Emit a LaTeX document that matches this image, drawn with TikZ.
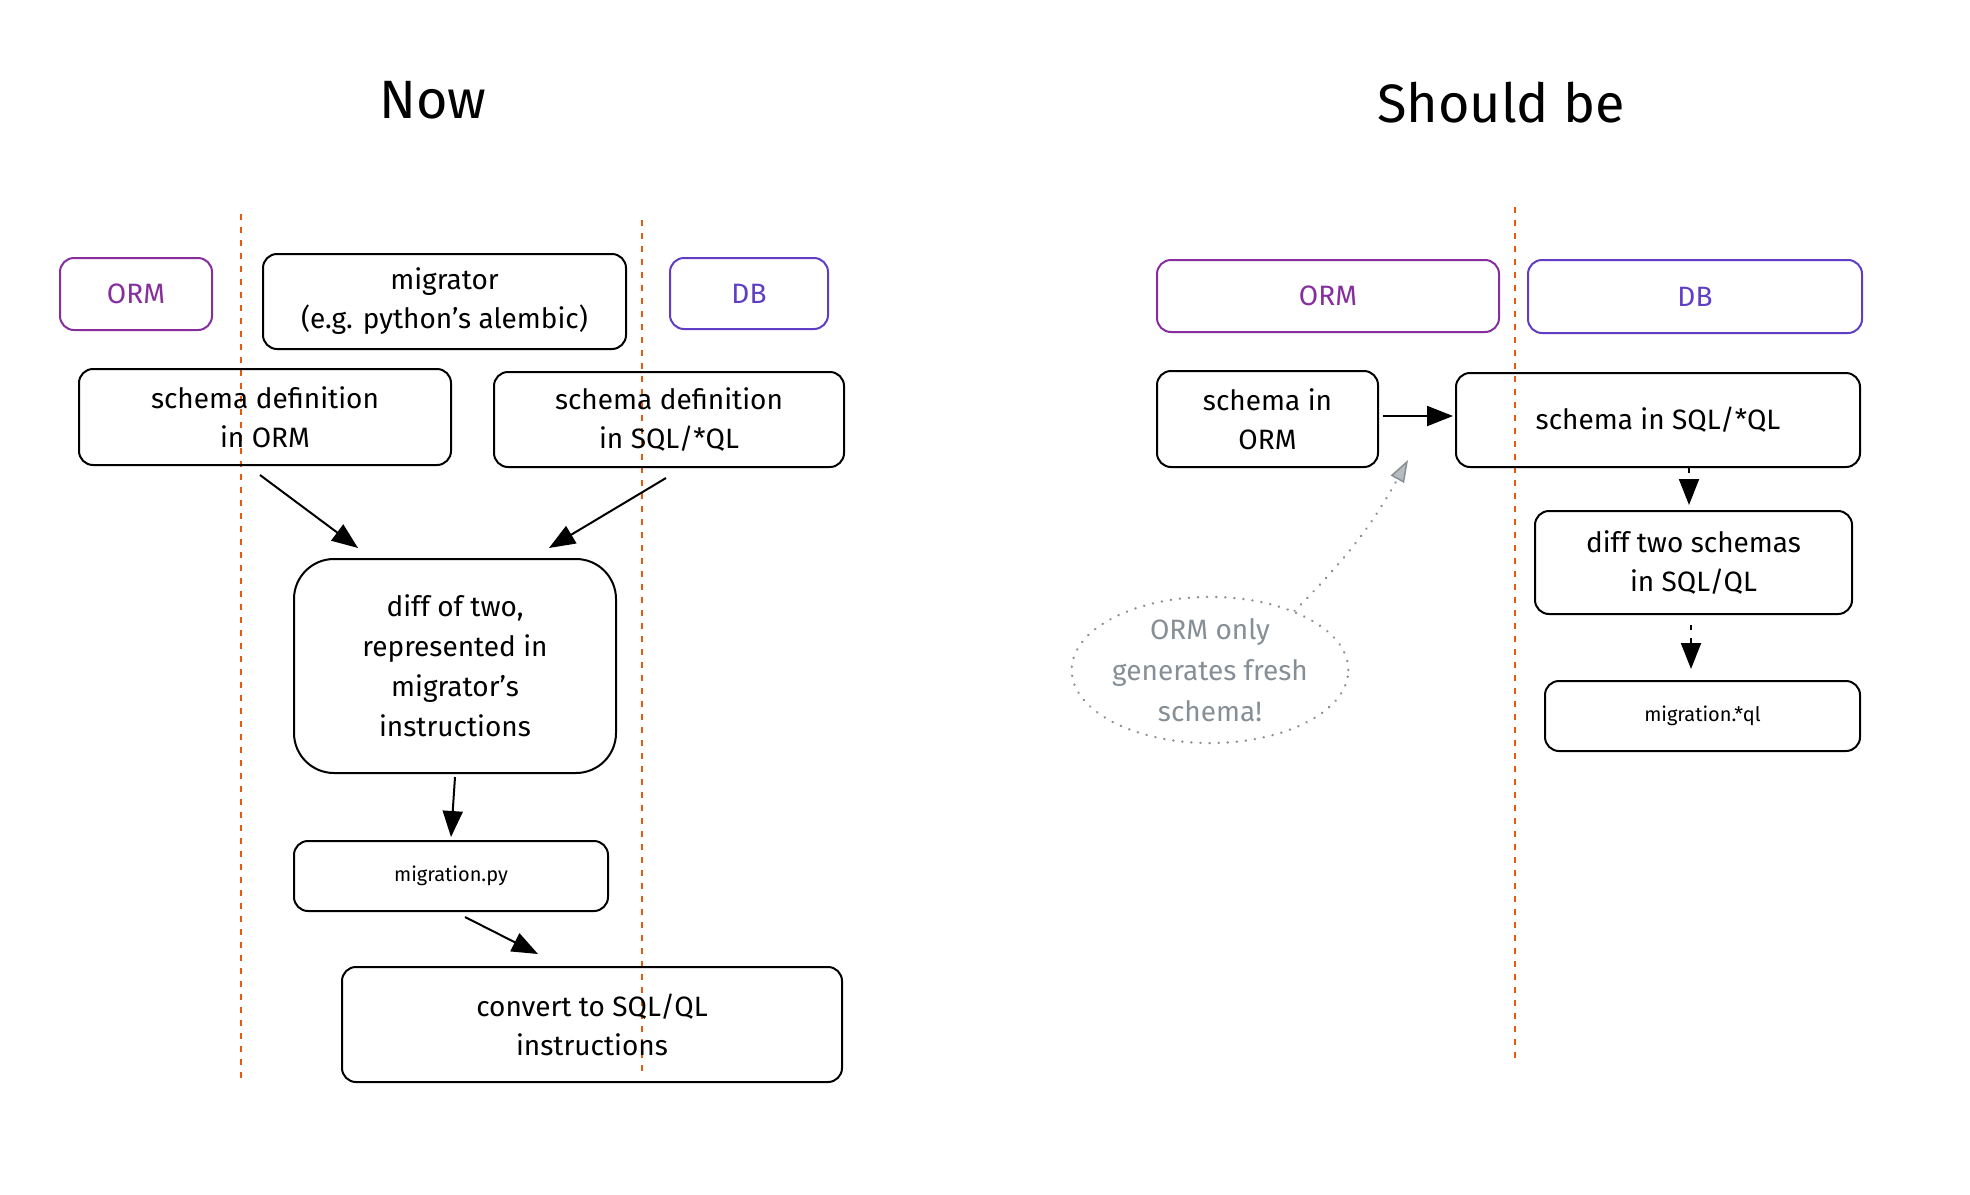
\documentclass[tikz,border=0pt]{standalone}
\usepackage{fontspec}
\setmainfont{Fira Sans}
\usetikzlibrary{arrows.meta,shapes.geometric}
\definecolor{ormcol}{HTML}{862E9C}
\definecolor{dbcol}{HTML}{5F3DC4}
\definecolor{sepcol}{HTML}{E8590C}
\definecolor{notecol}{HTML}{868E96}
\tikzset{
  box/.style={draw, line width=2pt, rounded corners=14pt, align=center,
    inner sep=0pt, font=\fontsize{28}{39}\selectfont},
  tag/.style={box, font=\fontsize{28}{34}\selectfont},
  small/.style={box, font=\fontsize{20}{24}\selectfont},
  title/.style={font=\fontsize{54}{60}\selectfont},
  sep/.style={sepcol, line width=2pt, dash pattern=on 6pt off 7pt},
  flow/.style={line width=2pt, -{Triangle[length=26pt,width=20pt]}},
  dflow/.style={flow, dash pattern=on 5pt off 8pt},
  dots/.style={notecol, line width=2.6pt, line cap=round, dash pattern=on 0.1pt off 9pt},
}
\begin{document}
\begin{tikzpicture}[x=1pt,y=-1pt]
\useasboundingbox (0,0) rectangle (1970,1194);
% Titles
\node[title] (now) at (433,100) {Now};
\node[title] (should) at (1501,103) {Should be};
% Separators
\draw[sep] (241,214) -- (241,1080);
\draw[sep] (642,220) -- (642,1074);
\draw[sep] (1515,207) -- (1515,1062);
% Now: headers
\node[tag, draw=ormcol, text=ormcol, minimum width=152pt, minimum height=72pt]
  (ormL) at (136,294) {ORM};
\node[box, minimum width=363pt, minimum height=95pt]
  (migrator) at (444.5,301.5) {migrator\\(e.g. python's alembic)};
\node[tag, draw=dbcol, text=dbcol, minimum width=158pt, minimum height=71pt]
  (dbL) at (749,293.5) {DB};
% Now: flow
\node[box, minimum width=372pt, minimum height=96pt]
  (schemaOrm) at (265,417) {schema definition\\in ORM};
\node[box, minimum width=350pt, minimum height=95pt]
  (schemaSql) at (669,419.5) {schema definition\\in SQL/*QL};
\node[box, rounded corners=40pt, minimum width=322pt, minimum height=214pt,
  font=\fontsize{28}{40}\selectfont]
  (diff) at (455,666) {diff of two,\\represented in\\migrator's\\instructions};
\node[small, minimum width=314pt, minimum height=70pt]
  (migpy) at (451,876) {migration.py};
\node[box, minimum width=500pt, minimum height=115pt]
  (convert) at (592,1024.5) {convert to SQL/QL\\instructions};
\draw[flow] ([xshift=-5pt,yshift=-9pt]schemaOrm.south)
  -- ([xshift=-97pt,yshift=10pt]diff.north);
\draw[flow] ([xshift=-3pt,yshift=-10pt]schemaSql.south)
  -- ([xshift=94pt,yshift=10pt]diff.north);
\draw[flow] ([yshift=-3pt]diff.south) -- ([yshift=3pt]migpy.north);
\draw[flow] ([xshift=14pt,yshift=-5pt]migpy.south)
  -- ([xshift=-54pt,yshift=12pt]convert.north);
% Should be: headers
\node[tag, draw=ormcol, text=ormcol, minimum width=342pt, minimum height=72pt]
  (ormR) at (1328,296) {ORM};
\node[tag, draw=dbcol, text=dbcol, minimum width=334pt, minimum height=73pt]
  (dbR) at (1695,296.5) {DB};
% Should be: flow
\node[box, minimum width=221pt, minimum height=96pt]
  (schemaR) at (1267.5,419) {schema in\\ORM};
\node[box, minimum width=404pt, minimum height=94pt]
  (sqlR) at (1658,420) {schema in SQL/*QL};
\node[box, minimum width=317pt, minimum height=103pt]
  (diffR) at (1693.5,562.5) {diff two schemas\\in SQL/QL};
\node[small, minimum width=315pt, minimum height=70pt]
  (migql) at (1702.5,716) {migration.*ql};
\draw[flow] ([xshift=4pt,yshift=3pt]schemaR.east) -- ([xshift=-2pt,yshift=4pt]sqlR.west);
\draw[dflow] ([xshift=31pt]sqlR.south) -- ([xshift=-4.5pt,yshift=5pt]diffR.north);
\draw[dflow] ([xshift=-2.5pt,yshift=-10pt]diffR.south)
  -- ([xshift=-11.5pt,yshift=11pt]migql.north);
% Note
\node[ellipse, draw, dots, text=notecol, minimum width=268pt, minimum height=144pt,
  inner sep=0pt, align=center, font=\fontsize{28}{41}\selectfont]
  (note) at (1210,670) {ORM only\\generates fresh\\schema!};
\draw[dots, -{Triangle[length=22pt,width=15pt,fill=notecol!60,line width=1.5pt]}]
  (note.35) to[bend right=8] ([xshift=29pt,yshift=8pt]schemaR.south east);
\end{tikzpicture}
\end{document}
